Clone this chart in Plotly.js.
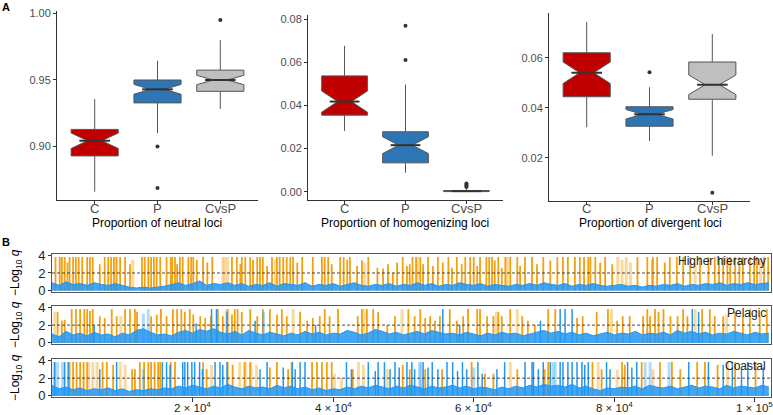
<!DOCTYPE html>
<html>
<head>
<meta charset="utf-8">
<script src="https://cdn.plot.ly/plotly-3.0.1.min.js"></script>
<style>
  html, body { margin: 0; padding: 0; background: #fff; }
  #chart { width: 773px; height: 415px; }
</style>
</head>
<body>
<div id="chart"></div>
<script>
/* Panel A: box plots of locus proportions, panel B: -log10 q along the genome */

// ---------------- Panel A data ----------------
var groups = ['C', 'P', 'CvsP'];
var groupColors = ['#C00000', '#2E75B6', '#BFBFBF'];

// neutral loci
var neutralLow = [0.8659, 0.9099, 0.9281];
var neutralQ1 = [0.8928, 0.9326, 0.9413];
var neutralMed = [0.9042, 0.9428, 0.9498];
var neutralQ3 = [0.9127, 0.9498, 0.9572];
var neutralHigh = [0.9356, 0.9642, 0.9797];
var neutralNotch = [0.0058, 0.0037, 0.0035];
var neutralOutX = ['P', 'P', 'CvsP'];
var neutralOutY = [0.8998, 0.8688, 0.9948];

// homogenizing loci
var homogLow = [0.0282, 0.0088, 0.0];
var homogQ1 = [0.0355, 0.0134, 0.0001];
var homogMed = [0.0418, 0.0216, 0.0003];
var homogQ3 = [0.0537, 0.0278, 0.0006];
var homogHigh = [0.0676, 0.0497, 0.0012];
var homogNotch = [0.0049, 0.0039, 0.0001];
var homogOutX = ['P', 'P', 'CvsP', 'CvsP', 'CvsP', 'CvsP'];
var homogOutY = [0.0769, 0.0610, 0.0022, 0.0028, 0.0033, 0.0038];

// divergent loci
var divLow = [0.0322, 0.0267, 0.0208];
var divQ1 = [0.0444, 0.0326, 0.0434];
var divMed = [0.0540, 0.0374, 0.0492];
var divQ3 = [0.0620, 0.0404, 0.0583];
var divHigh = [0.0744, 0.0482, 0.0695];
var divNotch = [0.0043, 0.0019, 0.0039];
var divOutX = ['P', 'CvsP'];
var divOutY = [0.0542, 0.0060];

// ---------------- Panel B data (positions in thousands of loci) ----------------
var xTickVals = [20000, 40000, 60000, 80000, 100000];
var xTickText = ['2 × 10<sup>4</sup>', '4 × 10<sup>4</sup>', '6 × 10<sup>4</sup>', '8 × 10<sup>4</sup>', '1 × 10<sup>5</sup>'];

// Higher hierarchy
var hhOrangeKb = [0.5,1.1,1.4,1.8,2.2,2.5,3.0,3.4,3.8,4.3,5.0,5.4,5.8,6.8,7.5,8.0,8.4,8.8,9.2,9.7,10.4,11.1,12.8,13.2,13.7,14.1,14.5,14.9,15.4,16.3,16.9,
  17.1,17.5,17.8,18.2,18.6,19.4,19.8,20.1,20.6,21.5,22.1,22.8,25.6,26.3,26.8,27.0,27.5,28.2,28.6,29.2,29.6,30.0,30.6,31.3,32.0,32.4,32.9,33.4,33.9,
  34.3,34.9,35.6,37.1,38.4,38.8,39.3,39.8,41.0,41.5,42.0,42.4,43.4,44.1,45.0,46.3,47.1,47.8,48.5,49.1,49.9,50.5,50.9,
  51.3,51.8,52.4,52.8,53.5,54.2,54.9,55.6,56.4,56.9,57.6,58.3,58.8,59.5,60.0,60.5,60.9,61.8,62.2,62.6,63.0,63.5,64.0,64.5,65.2,66.2,66.6,67.3,
  68.3,69.0,69.9,70.9,71.9,72.7,73.4,74.4,75.1,75.7,76.3,76.6,77.3,78.0,78.7,79.7,83.3,84.7,85.4,
  85.5,86.1,87.2,87.9,88.9,89.8,90.8,92.2,93.4,94.3,94.9,95.5,96.1,96.5,97.2,97.8,98.3,99.3,99.9,100.3,101.3,101.9];
var hhOrangeQ = [3.8,3.8,3.8,3.8,3.2,3.8,3.8,3.8,3.8,3.8,3.8,3.8,3.8,3.0,3.8,3.8,3.8,3.8,3.8,3.8,3.8,3.0,3.8,3.8,3.8,3.8,3.8,3.8,3.8,3.8,3.8,
  3.8,3.8,3.0,3.8,3.8,3.8,3.8,3.8,3.5,3.8,3.2,3.8,3.8,3.8,3.0,3.8,3.8,3.8,3.5,3.8,3.8,3.8,2.8,3.8,3.8,3.8,3.8,3.8,3.8,
  3.8,3.2,3.8,3.8,3.8,3.8,3.8,3.0,3.8,3.8,3.5,3.8,2.8,3.4,3.8,2.6,2.5,3.0,2.0,3.2,3.8,2.8,3.0,
  3.8,3.8,3.8,3.0,3.8,2.8,3.8,3.2,3.8,2.6,3.8,3.0,3.8,3.8,3.8,2.8,3.8,3.8,3.8,3.8,3.4,3.8,2.6,3.8,3.8,3.8,2.8,3.8,
  3.8,3.0,3.8,3.4,3.8,3.8,3.8,3.8,3.8,3.8,3.8,3.8,3.8,3.2,3.8,3.0,3.8,3.8,3.5,
  3.8,3.8,3.2,3.8,3.8,3.8,3.8,3.8,3.8,3.8,3.8,3.8,3.8,3.8,3.8,3.8,3.8,3.8,3.8,3.8,3.8,3.8];
var hhPaleKb = [9.0,11.5,24.3,24.6,25.0,31.8,44.5,52.0,64.8,80.5,81.1,81.7,82.3,91.5,100.8];
var hhPaleQ = [3.8,3.5,3.8,3.8,3.8,3.6,3.2,3.8,3.8,3.8,3.5,3.8,3.2,3.0,3.6];
var hhBlue = [0.9,0.6,1.0,0.7,0.8,0.6,0.9,0.7,0.6,0.8,
  0.6,0.4,0.3,0.4,0.3,0.4,0.5,0.7,0.9,0.6,
  0.8,1.1,0.6,0.8,0.7,0.9,0.6,0.8,0.5,0.7,
  0.6,0.9,0.5,0.8,0.7,0.6,0.9,0.5,0.7,0.6,
  0.8,0.5,0.7,0.9,0.6,0.5,0.7,0.6,0.8,0.5,
  0.7,0.6,0.9,0.6,0.8,0.5,0.7,0.6,0.9,0.7,
  0.6,0.8,0.5,0.7,0.6,0.5,0.7,0.6,0.8,0.6,
  0.9,0.7,0.6,0.8,0.5,0.7,0.6,0.8,0.6,0.5,
  0.6,0.7,0.5,0.6,0.4,0.6,0.5,0.7,0.6,0.8,
  0.5,0.7,0.6,0.8,0.7,0.9,0.6,0.8,0.7,0.9,
  0.7,0.8,0.9];

// Pelagic
var pelOrangeKb = [0.8,1.4,1.8,2.8,3.4,4.0,4.6,5.0,5.4,5.8,6.8,7.5,8.5,9.2,10.4,11.1,11.8,12.1,14.1,14.9,15.5,16.3,
  17.2,17.8,18.4,18.9,19.6,20.1,21.1,21.8,22.6,23.6,24.3,25.0,25.6,26.0,26.4,27.0,28.2,29.2,30.0,31.0,32.0,32.7,33.4,
  35.3,36.3,37.1,38.1,38.8,39.5,40.7,43.5,44.1,44.8,45.7,46.4,47.7,48.8,50.7,
  51.6,52.4,53.1,53.8,54.5,55.2,56.6,57.6,58.5,59.2,60.5,60.9,61.9,62.8,63.5,64.0,65.2,66.9,67.7,
  68.7,70.6,71.6,74.7,75.5,77.5,79.1,80.4,81.2,82.2,84.1,84.7,85.1,
  85.8,86.3,87.0,88.0,89.0,89.8,90.4,92.5,93.6,94.3,95.5,97.2,98.3,99.3,100.7,101.7];
var pelOrangeQ = [3.5,2.5,2.6,3.8,3.8,3.8,3.8,3.8,3.6,3.8,3.0,2.8,3.8,3.0,3.8,3.8,3.8,3.5,3.0,3.2,3.8,3.0,
  3.8,3.8,3.8,3.5,3.8,3.2,3.0,2.8,3.0,3.8,3.0,3.8,3.2,3.8,3.8,3.5,3.8,3.0,3.8,3.8,3.2,3.8,3.0,
  3.5,2.5,2.8,3.0,3.8,3.0,3.8,3.0,3.8,3.8,3.8,3.5,2.0,3.0,3.8,
  3.0,3.8,2.8,3.0,2.5,3.0,3.8,2.5,3.0,3.8,3.8,3.8,3.0,3.0,3.5,3.0,3.8,3.0,2.5,
  2.0,3.8,3.8,2.8,3.0,3.5,3.8,2.5,3.0,3.0,3.0,3.8,3.0,
  3.8,3.5,3.8,3.0,3.0,3.8,3.0,3.8,3.8,3.0,3.0,3.5,3.0,3.8,3.0,3.8];
var pelPaleKb = [0.4,9.8,24.8,34.3,44.4,49.8,63.2,66.2,79.6,91.5,96.0];
var pelPaleQ = [3.5,3.0,3.8,3.8,3.8,3.8,3.5,3.8,3.8,3.8,3.2];
var pelBlueKb = [6.0,20.5,22.7,23.4,24.9,28.9,37.5,55.6,58.0,69.5,72.3,73.0,74.0,91.1,92.0];
var pelBlueQ = [2.0,2.2,3.8,3.8,3.5,2.5,2.0,3.8,2.0,2.5,3.8,3.8,3.8,3.8,3.5];
var pelPaleBlueKb = [13.0,13.7,30.1];
var pelPaleBlueQ = [3.3,3.8,3.5];
var pelBlue = [1.0,0.7,1.3,0.9,1.1,0.8,1.2,0.9,1.0,0.7,
  1.1,0.9,1.4,1.6,1.2,0.9,1.0,0.8,1.2,1.4,
  1.1,1.5,1.3,1.6,1.2,1.0,1.3,0.9,1.4,1.1,
  0.9,1.2,1.0,0.8,1.1,0.9,1.3,1.0,1.2,0.9,
  1.1,1.0,1.4,1.2,0.9,1.1,1.5,1.3,1.0,1.2,
  0.9,1.1,1.3,1.0,1.4,1.2,1.0,1.1,0.9,1.2,
  1.0,0.8,1.1,0.9,1.2,1.0,1.1,0.8,1.0,1.2,
  1.4,1.1,1.3,1.0,1.2,0.9,1.1,0.8,1.0,1.2,
  0.9,1.1,1.0,1.3,0.9,1.1,1.0,1.2,0.9,1.4,
  1.1,1.3,1.0,1.2,0.9,1.1,1.0,1.3,1.1,0.9,
  1.2,1.0,1.1];

// Coastal
var coOrangeKb = [2.5,3.0,3.5,4.0,4.5,5.0,7.2,7.8,8.7,11.4,11.8,12.5,13.1,13.7,14.1,14.6,15.1,15.4,16.9,
  17.5,21.5,22.0,25.0,25.7,27.4,28.2,31.0,32.0,33.6,34.1,
  37.0,37.7,38.4,39.1,39.8,42.8,49.9,50.9,
  53.1,55.5,59.7,61.6,62.8,66.2,
  70.1,70.6,76.9,78.2,81.1,81.5,83.9,
  86.5,88.2,89.4,91.8,92.9,94.7,97.2,100.1];
var coOrangeQ = [3.8,3.8,3.8,3.8,3.8,3.8,3.8,3.8,3.5,3.0,3.0,3.8,3.8,3.8,3.8,3.8,3.8,3.8,3.8,
  3.8,3.8,3.0,3.8,3.5,3.8,3.8,3.2,3.8,3.0,3.8,
  3.8,3.8,3.8,3.8,3.8,3.0,3.5,3.0,
  3.0,3.0,3.8,2.5,2.5,3.0,
  3.0,3.8,3.8,3.0,3.8,3.5,3.8,
  3.8,3.8,3.0,3.8,3.8,3.5,3.8,3.8];
var coPaleKb = [5.2,5.8,6.4,9.7,10.4,22.7,26.7,27.5,28.3,29.1,40.2,41.2,43.6,44.3,47.7,65.2,77.7,80.4,85.5,96.1];
var coPaleQ = [3.8,3.8,3.8,3.8,3.5,3.5,3.8,3.8,3.8,3.5,2.5,2.0,3.8,3.5,3.0,3.8,3.8,3.0,3.0,3.8];
var coBlueKb = [0.4,1.8,2.3,6.8,9.2,15.7,16.3,16.8,18.6,18.9,
  19.3,19.9,20.3,21.0,21.4,23.2,23.9,24.3,24.9,29.6,
  30.6,32.9,34.2,34.6,35.3,36.0,41.9,42.6,45.0,46.0,
  46.4,47.3,48.1,48.8,49.4,50.5,51.2,51.6,52.8,53.5,
  54.1,54.9,56.2,57.0,57.7,58.4,59.0,60.6,61.2,63.3,
  64.4,67.3,68.3,68.5,69.2,69.9,70.9,72.3,72.7,73.4,
  74.0,74.7,75.4,75.8,76.3,78.9,79.4,81.9,82.5,83.2,
  90.6,93.4,95.5,96.8,98.1,99.0,101.2];
var coBlueQ = [3.8,3.8,3.8,3.0,3.8,3.8,3.8,3.5,3.8,3.8,
  3.8,3.8,3.8,3.8,3.0,3.8,3.8,3.5,3.8,3.0,
  3.8,3.2,3.8,3.0,3.8,3.8,3.8,3.0,3.8,2.8,
  3.8,3.8,3.0,3.8,3.2,3.8,3.8,3.0,3.8,3.2,
  3.8,3.0,3.8,3.8,2.8,3.8,3.0,3.8,2.5,3.0,
  3.8,3.8,3.8,3.8,3.0,3.8,3.8,3.8,3.8,3.8,
  3.8,3.8,3.8,3.5,3.8,3.8,3.0,3.8,3.2,3.8,
  3.8,3.8,3.5,3.8,3.0,3.8,3.2];
var coPaleBlueKb = [0.3,0.8,1.5,13.0,52.3,52.5,60.0,71.3,71.6,84.4,85.1,87.8];
var coPaleBlueQ = [3.8,3.8,3.8,3.0,3.8,3.8,3.2,3.8,3.8,3.8,3.8,3.8];
var coBlue = [1.2,0.8,1.0,0.7,0.9,0.6,0.8,0.7,0.9,0.6,
  0.8,0.5,0.7,0.6,0.8,0.7,0.9,0.8,1.1,0.9,
  1.2,1.0,0.8,1.1,0.9,1.3,1.0,0.8,1.1,0.9,
  1.0,0.8,1.2,0.9,1.1,0.8,1.0,0.7,0.9,0.6,
  0.8,0.7,1.0,0.8,1.1,0.9,1.2,1.0,0.8,1.1,
  0.9,1.2,1.0,0.8,1.1,0.9,1.0,1.2,0.9,1.1,
  0.8,1.0,0.9,0.7,1.0,0.8,1.1,0.9,1.2,1.0,
  1.3,1.1,1.2,1.0,1.3,0.9,1.1,0.8,0.6,0.9,
  0.8,1.0,0.9,1.1,0.8,1.2,1.0,0.9,1.1,0.8,
  1.0,1.2,0.9,1.1,1.0,0.8,1.2,0.9,1.1,1.0,
  0.9,1.2,1.0];

// ---------------- colours ----------------
var ORANGE = '#F5A00F';
var ORANGE_PALE = 'rgba(245,160,15,0.4)';
var BLUE = '#2196F3';
var BLUE_PALE = 'rgba(33,150,243,0.35)';

var W = 773, H = 415;
function px(x) { return x / W; }
function py(y) { return 1 - y / H; }

var traces = [];
var NOTCH_W = 0.35;
var BOX_W = 0.75;

///////////////////////////// Panel A /////////////////////////////

function add_boxes(axisNum, low, q1, med, q3, high, notch, outX, outY) {
  var xa = axisNum === 1 ? 'x' : 'x' + axisNum;
  var ya = axisNum === 1 ? 'y' : 'y' + axisNum;
  for (var i = 0; i < groups.length; i++) {
    traces.push({
      type: 'box', xaxis: xa, yaxis: ya,
      x: [i], lowerfence: [low[i]], q1: [q1[i]], median: [med[i]],
      q3: [q3[i]], upperfence: [high[i]], notchspan: [notch[i]],
      notched: true, notchwidth: NOTCH_W, width: BOX_W, whiskerwidth: 0,
      fillcolor: groupColors[i], line: { color: '#555555', width: 1 },
      boxpoints: false, hoverinfo: 'skip', showlegend: false
    });
    // thicker median bar, as ggplot draws it
    var hw = BOX_W / 2 * (1 - NOTCH_W);
    traces.push({
      type: 'scatter', mode: 'lines', xaxis: xa, yaxis: ya,
      x: [i - hw, i + hw], y: [med[i], med[i]],
      line: { color: '#333333', width: 2 }, hoverinfo: 'skip', showlegend: false
    });
  }
  traces.push({
    type: 'scatter', mode: 'markers', xaxis: xa, yaxis: ya,
    x: outX.map(function (g) { return groups.indexOf(g); }), y: outY,
    marker: { color: '#333333', size: 4 }, hoverinfo: 'skip', showlegend: false
  });
}

add_boxes(1, neutralLow, neutralQ1, neutralMed, neutralQ3, neutralHigh, neutralNotch, neutralOutX, neutralOutY);
add_boxes(2, homogLow, homogQ1, homogMed, homogQ3, homogHigh, homogNotch, homogOutX, homogOutY);
add_boxes(3, divLow, divQ1, divMed, divQ3, divHigh, divNotch, divOutX, divOutY);

///////////////////////////// Panel B /////////////////////////////

// vertical segments from 0 up to each q value
function spikes(axisNum, kb, q, color, width) {
  var xs = [], ys = [];
  var n = Math.min(kb.length, q.length);
  for (var i = 0; i < n; i++) {
    xs.push(kb[i] * 1000, kb[i] * 1000, null);
    ys.push(0, q[i], null);
  }
  traces.push({
    type: 'scatter', mode: 'lines', xaxis: 'x' + axisNum, yaxis: 'y' + axisNum,
    x: xs, y: ys, line: { color: color, width: width },
    hoverinfo: 'skip', showlegend: false
  });
}

function baseline(axisNum, vals) {
  var xs = vals.map(function (v, i) { return i * 1000; });
  traces.push({
    type: 'scatter', mode: 'lines', xaxis: 'x' + axisNum, yaxis: 'y' + axisNum,
    x: xs, y: vals, fill: 'tozeroy', fillcolor: 'rgba(33,150,243,0.85)',
    line: { color: BLUE, width: 1 }, hoverinfo: 'skip', showlegend: false
  });
}

spikes(4, hhPaleKb, hhPaleQ, ORANGE_PALE, 3);
spikes(4, hhOrangeKb, hhOrangeQ, ORANGE, 1.8);
baseline(4, hhBlue);

spikes(5, pelPaleKb, pelPaleQ, ORANGE_PALE, 3);
spikes(5, pelOrangeKb, pelOrangeQ, ORANGE, 1.8);
spikes(5, pelPaleBlueKb, pelPaleBlueQ, BLUE_PALE, 3);
spikes(5, pelBlueKb, pelBlueQ, BLUE, 1.5);
baseline(5, pelBlue);

spikes(6, coPaleKb, coPaleQ, ORANGE_PALE, 3);
spikes(6, coOrangeKb, coOrangeQ, ORANGE, 1.8);
spikes(6, coPaleBlueKb, coPaleBlueQ, BLUE_PALE, 3);
spikes(6, coBlueKb, coBlueQ, BLUE, 1.5);
baseline(6, coBlue);

///////////////////////////// Layout /////////////////////////////

var FONT = 'Liberation Sans, Arial, sans-serif';

function box_xaxis(domain, anchor) {
  return {
    domain: domain, anchor: anchor, range: [-0.6, 2.6],
    tickvals: [0, 1, 2], showticklabels: false,
    showline: true, linecolor: '#333333', linewidth: 1,
    ticks: 'outside', ticklen: 3, tickcolor: '#333333',
    showgrid: false, zeroline: false, fixedrange: true
  };
}
function box_yaxis(domain, anchor, range, tickvals, ticktext) {
  return {
    domain: domain, anchor: anchor, range: range,
    tickvals: tickvals, ticktext: ticktext,
    showline: true, linecolor: '#333333', linewidth: 1,
    ticks: 'outside', ticklen: 3, tickcolor: '#333333',
    tickfont: { family: FONT, size: 11, color: '#4D4D4D' },
    showgrid: false, zeroline: false, fixedrange: true
  };
}
var bX = [px(52), px(771)];
function manhattan_xaxis(anchor, showTicks) {
  return {
    domain: bX, anchor: anchor, range: [0, 102300],
    showline: true, mirror: true, linecolor: '#555555', linewidth: 1,
    tickvals: showTicks ? xTickVals : [], showticklabels: false,
    ticks: showTicks ? 'outside' : '', ticklen: 4, tickcolor: '#333333',
    showgrid: false, zeroline: false, fixedrange: true
  };
}
function manhattan_yaxis(domain, anchor) {
  return {
    domain: domain, anchor: anchor, range: [-0.12, 4.15],
    tickvals: [0, 2, 4], showline: true, mirror: true,
    linecolor: '#555555', linewidth: 1,
    ticks: 'outside', ticklen: 3, tickcolor: '#333333',
    tickfont: { family: FONT, size: 13, color: '#222222' },
    showgrid: false, zeroline: false, fixedrange: true
  };
}

var yB = [[py(291.7), py(254)], [py(344), py(306)], [py(397), py(359)]];

var layout = {
  width: W, height: H,
  margin: { l: 0, r: 0, t: 0, b: 0 },
  paper_bgcolor: '#ffffff', plot_bgcolor: 'rgba(0,0,0,0)',
  showlegend: false,
  font: { family: FONT },
  xaxis: box_xaxis([px(57), px(258)], 'y'),
  yaxis: box_yaxis([py(200), py(11)], 'x', [0.8597, 1.0016], [0.90, 0.95, 1.00], ['0.90', '0.95', '1.00']),
  xaxis2: box_xaxis([px(308), px(503)], 'y2'),
  yaxis2: box_yaxis([py(200), py(15)], 'x2', [-0.0038, 0.0819], [0, 0.02, 0.04, 0.06, 0.08], ['0.00', '0.02', '0.04', '0.06', '0.08']),
  xaxis3: box_xaxis([px(549), px(750)], 'y3'),
  yaxis3: box_yaxis([py(201), py(13)], 'x3', [0.0027, 0.0779], [0.02, 0.04, 0.06], ['0.02', '0.04', '0.06']),
  xaxis4: manhattan_xaxis('y4', false),
  yaxis4: manhattan_yaxis(yB[0], 'x4'),
  xaxis5: manhattan_xaxis('y5', false),
  yaxis5: manhattan_yaxis(yB[1], 'x5'),
  xaxis6: manhattan_xaxis('y6', true),
  yaxis6: manhattan_yaxis(yB[2], 'x6'),
  shapes: [],
  annotations: []
};

// dashed significance line at -log10 q = 2
[4, 5, 6].forEach(function (n) {
  layout.shapes.push({
    type: 'line', xref: 'x' + n, yref: 'y' + n, x0: 0, x1: 102300, y0: 2, y1: 2,
    line: { color: '#333333', width: 0.9, dash: '3px,2px' }
  });
});

function note(text, x, y, opts) {
  var a = {
    text: text, xref: 'paper', yref: 'paper', x: px(x), y: py(y),
    showarrow: false, xanchor: 'center', yanchor: 'middle',
    font: { family: FONT, size: 12, color: '#000000' }
  };
  for (var k in opts) a[k] = opts[k];
  layout.annotations.push(a);
}

note('<b>A</b>', 6, 7, { font: { family: FONT, size: 11, color: '#000' } });
note('<b>B</b>', 6, 242, { font: { family: FONT, size: 11, color: '#000' } });
note('Proportion of neutral loci', 157, 223);
note('Proportion of homogenizing loci', 405, 223);
note('Proportion of divergent loci', 650, 223);

// category labels under each box panel
['x', 'x2', 'x3'].forEach(function (xa) {
  groups.forEach(function (g, i) {
    note(g, 0, 208, { xref: xa, x: i, font: { family: FONT, size: 13, color: '#4D4D4D' } });
  });
});

// genome position labels under panel B
xTickVals.forEach(function (v, i) {
  note(xTickText[i], 0, 407, { xref: 'x6', x: v, font: { family: FONT, size: 11.5, color: '#222222' } });
});

var panelNames = ['Higher hierarchy', 'Pelagic', 'Coastal'];
var panelNameY = [261, 313, 366];
var yTitleMid = [273, 325, 378];
for (var i = 0; i < 3; i++) {
  note(panelNames[i], 768, panelNameY[i], { xanchor: 'right', font: { family: FONT, size: 12, color: '#222' } });
  note('−Log<sub>10</sub> <i>q</i>', 16, yTitleMid[i], { textangle: -90, font: { family: FONT, size: 12, color: '#000' } });
}

Plotly.newPlot('chart', traces, layout, { displayModeBar: false, staticPlot: true });
</script>
</body>
</html>
